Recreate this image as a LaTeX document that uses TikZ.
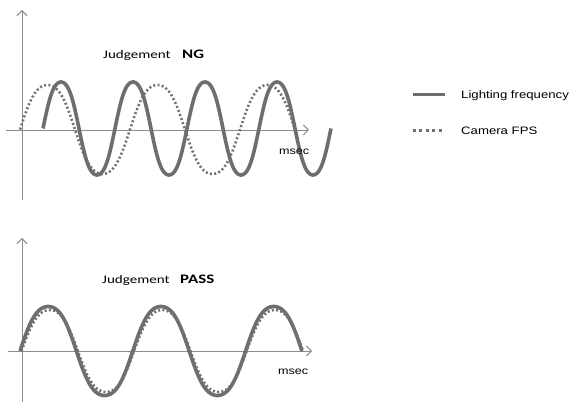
\documentclass[tikz,border=0pt]{standalone}
\usepackage{fontspec}
\usetikzlibrary{arrows.meta}
\newfontfamily\calib[FakeStretch=1.3]{Carlito}
\newfontfamily\arialw[FakeStretch=1.22]{Liberation Sans}
\definecolor{wavegray}{HTML}{6E6E6E}
\definecolor{dotgray}{HTML}{727272}
\definecolor{axisgray}{HTML}{8C8C8C}
\begin{document}
\begin{tikzpicture}[x=1pt,y=1pt,
  declare function={rsin(\t)=sin(\t)*(1.2-0.2*sin(\t)*sin(\t));},
  axisline/.style={draw=axisgray,line width=0.9pt,-{Straight Barb[length=5pt,width=10pt]}},
  lightwave/.style={draw=wavegray,line width=3.6pt},
  camwave/.style={draw=dotgray,line width=2.6pt,dash pattern=on 2pt off 2.3pt},
  judge/.style={inner sep=0pt,anchor=base west,font=\calib\fontsize{11.6}{13}\selectfont},
  verdict/.style={inner sep=0pt,anchor=base west,font=\calib\bfseries\fontsize{13}{15}\selectfont},
  unitlbl/.style={inner sep=0pt,anchor=base west,font=\arialw\fontsize{10.3}{12}\selectfont},
  legendlbl/.style={inner sep=0pt,anchor=base west,font=\arialw\fontsize{10.8}{13}\selectfont}]
\useasboundingbox (0,0) rectangle (571,402);
% ---- top chart axes
\coordinate (tyb) at (22,202);
\coordinate (tyt) at (22,392);
\coordinate (txl) at (6,272);
\coordinate (txr) at (309,272);
\draw[axisline] (tyb) -- (tyt);
\draw[axisline] (txl) -- (txr);
% top waves
\draw[camwave] plot[domain=20:295,samples=240,smooth] (\x,{272.5+44.5*rsin(3.27273*(\x-20))});
\draw[lightwave] plot[domain=43:331,samples=300,smooth] (\x,{273.5+46.5*rsin(5*(\x-43))});
\node[judge] (j1) at (103,343) {Judgement};
\node[verdict] (ng) at (182,343) {NG};
\node[unitlbl] (ms1) at (279,247) {msec};
% ---- bottom chart axes
\coordinate (byb) at (22,0);
\coordinate (byt) at (22,164);
\coordinate (bxl) at (8,51);
\coordinate (bxr) at (312,51);
\draw[axisline] (byb) -- (byt);
\draw[axisline] (bxl) -- (bxr);
% bottom waves
\draw[lightwave] plot[domain=20:302,samples=260,smooth] (\x,{51+44.5*rsin(3.19149*(\x-20))});
\draw[camwave] plot[domain=21.5:303,samples=260,smooth] (\x,{51+41*rsin(3.19716*(\x-21.5))});
\node[judge] (j2) at (102,118) {Judgement};
\node[verdict] (pass) at (180,118) {PASS};
\node[unitlbl] (ms2) at (278,27) {msec};
% ---- legend
\coordinate (l1a) at (413,307);
\coordinate (l1b) at (445,307);
\coordinate (l2a) at (413,271);
\coordinate (l2b) at (445,271);
\draw[draw=wavegray,line width=3pt] (l1a) -- (l1b);
\draw[draw=dotgray,line width=3pt,dash pattern=on 3pt off 3.4pt] (l2a) -- (l2b);
\node[legendlbl] (lg1) at (461,303.5) {Lighting frequency};
\node[legendlbl] (lg2) at (461,267.5) {Camera FPS};
\end{tikzpicture}
\end{document}
